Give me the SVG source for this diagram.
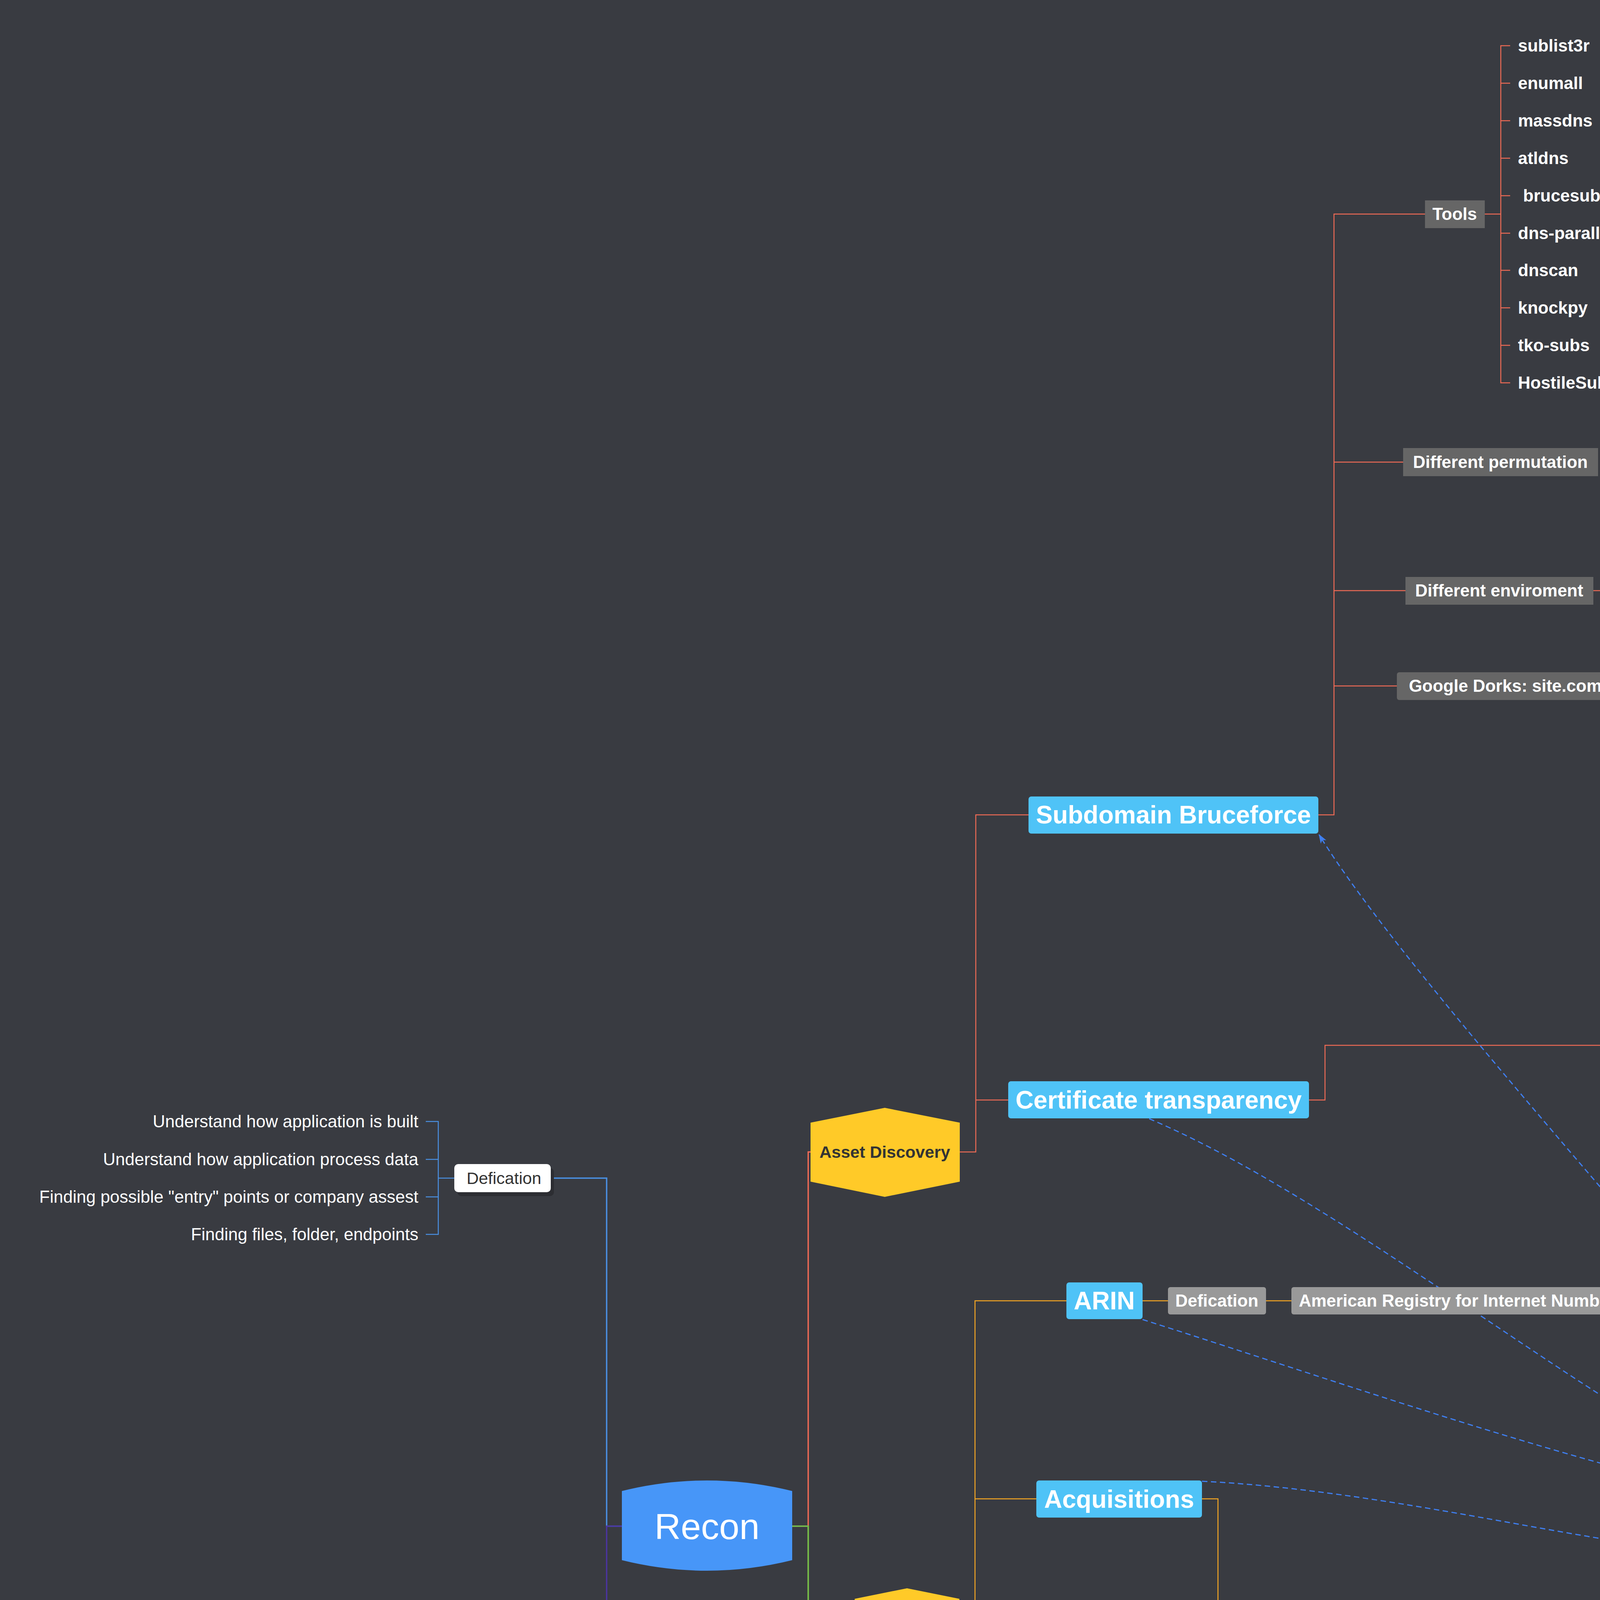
<svg xmlns="http://www.w3.org/2000/svg" width="5648" height="5938" viewBox="0 0 5648 5938">
<defs>
<marker id="ah" viewBox="0 0 20 14" refX="18" refY="7" markerWidth="24" markerHeight="17" markerUnits="userSpaceOnUse" orient="auto"><path d="M0,0 L20,7 L0,14 L5,7 z" fill="#3f7ff0"/></marker>
</defs>
<style>
text{font-family:"Liberation Sans",Arial,Helvetica,sans-serif}
.t44{font-size:44px;font-weight:bold;fill:#fff;text-anchor:middle}
.t64{font-size:64px;font-weight:bold;fill:#fff;text-anchor:middle}
.lf{font-size:44px;font-weight:bold;fill:#fff}
.lr{font-size:44px;fill:#fff;text-anchor:end}
.s31{font-size:31px;fill:#333;text-anchor:middle}
.dk{fill:#666}.gr{fill:#999}.bk{fill:#000}.bl{fill:#4fc3f7}.pu{fill:#ba68c8}.lt{fill:#e5e5e5}.wh{fill:#fff}
.fb{fill:#3c3e44}
.sh{fill:#2c2d32}
.ln{fill:none}
.r{stroke:#ee6a55}.o{stroke:#f5a623}.g{stroke:#6abf4b}.b{stroke:#4a90e2}.p{stroke:#4b35a0}
.w2{stroke-width:2.5}.w3{stroke-width:3.5}
.rel{fill:none;stroke:#3f7ff0;stroke-width:3;stroke-dasharray:14 9;marker-end:url(#ah)}
</style>
<rect width="5648" height="5938" fill="#393b41"/>

<g id="connectors">
<path class="ln b w3" d="M1592,3907 H1553 V3016 H1410"/>
<path class="ln p w3" d="M1592,3907 H1553 V4486 H1059"/>
<path class="ln b w2" d="M1163,3016 H1122 M1090,2871 H1122 V3160 H1090 M1090,2968 H1122 M1090,3064 H1122"/>
<path class="ln r w3" d="M2028,3907 H2069 V2949 H2075"/>
<path class="ln o w3" d="M2069,3907 V4146 H2188"/>
<path class="ln g w3" d="M2028,3907 H2069 V5130 H2194"/>
<path class="ln r w2" d="M2457,2949 H2498 V2086 H2633 M2498,2816 H2581"/>
<path class="ln r w2" d="M3375,2086 H3415 V548 H3648 M3415,1183 H3592 M3415,1512 H3598 M3415,1756 H3576"/>
<path class="ln r w2" d="M3801,548 H3842 M3866,117 H3842 V980 H3866 M3842,213 H3866 M3842,309 H3866 M3842,405 H3866 M3842,501 H3866 M3842,597 H3866 M3842,692 H3866 M3842,788 H3866 M3842,884 H3866"/>
<path class="ln r w2" d="M4079,1512 H4119 M4144,1464 H4119 V1560 H4144"/>
<path class="ln r w2" d="M3351,2816 H3392 V2676 H4264"/>
<path class="ln r w2" d="M4688,2676 H4729 M4773,2026 H4729 V3107 H4754 M4729,2508 H4754 M4969,2026 H5034"/>
<path class="ln r w2" d="M4954,2508 H4995 M5020,2340 H4995 V2676 H5020"/>
<path class="ln r w2" d="M5166,2676 H5207 M5231,2436 H5207 V2914 H5231 M5207,2532 H5231 M5207,2628 H5231 M5207,2723 H5231 M5207,2819 H5231"/>
<path class="ln r w2" d="M5030,3107 H5096 M5096,3012 H5071 V3204 H5096"/>
<path class="ln o w2" d="M2456,4146 H2496 V3330 H2730 M2496,3837 H2654"/>
<path class="ln o w2" d="M2925,3330 H2990 M3241,3330 H3306"/>
<path class="ln o w2" d="M3077,3837 H3118 V4471 H3616 M3118,4237 H3616"/>
<path class="ln g w2" d="M2591,5130 H2622 V4967 H2881 M2622,5130 V5729 H2741"/>
<path class="ln g w2" d="M3430,4967 H3471 V4843 M3471,4967 V5091 H3524"/>
<path class="ln g w2" d="M3531,5729 H3571 V5821 H3690"/>
<path class="ln r w3" d="M5166,3816 V3610 H5226"/>
<path class="ln o w3" d="M5166,3816 V3748 H5226"/>
<path class="ln g w3" d="M5166,3816 V3886 H5226"/>
<path class="ln b w3" d="M5125,3816 H5166 V4023 H5226"/>
<path class="rel" d="M4702,3761 C4300,3250 3600,2500 3377,2137"/>
<path class="rel" d="M2942,2864 C3500,3100 4250,3760 4690,3876"/>
<path class="rel" d="M2925,3378 C3500,3560 4200,3810 4690,3876"/>
<path class="rel" d="M3077,3792 C3650,3820 4250,4010 4480,3962 C4620,3935 4710,3930 4727,3876"/>
</g>

<g id="recon">
<path d="M1592,3817 Q1810,3763 2028,3817 L2028,3994 Q1810,4048 1592,3994 Z" fill="#4796f8"/>
<text x="1810" y="3940" style="font-size:93px;fill:#fff;text-anchor:middle">Recon</text>
</g>

<g id="defication-left">
<rect class="sh" x="1171" y="2990" width="247" height="72" rx="10"/>
<rect class="wh" x="1163" y="2980" width="247" height="72" rx="10"/>
<text x="1290" y="3031" style="font-size:43px;fill:#333;text-anchor:middle">Defication</text>
</g>
<g id="defication-items">
<text class="lr" x="1071" y="2886">Understand how application is built</text>
<text class="lr" x="1071" y="2983">Understand how application process data</text>
<text class="lr" x="1071" y="3079">Finding possible &quot;entry&quot; points or company assest</text>
<text class="lr" x="1071" y="3175">Finding files, folder, endpoints</text>
</g>
<g id="automation">
<rect class="sh" x="864" y="4465" width="202" height="58" rx="9"/>
<rect class="wh" x="857" y="4455" width="202" height="58" rx="9"/>
<text x="958" y="4497" style="font-size:31px;fill:#333;text-anchor:middle">Automation</text>
</g>

<g id="asset-discovery">
<polygon points="2075,2874 2265,2836 2457,2874 2457,3025 2265,3064 2075,3025" fill="#ffca28"/>
<text x="2265" y="2964" style="font-size:43px;font-weight:bold;fill:#333;text-anchor:middle">Asset Discovery</text>
</g>
<g id="osint">
<polygon points="2188,4093 2322,4066 2456,4093 2456,4198 2322,4225 2188,4198" fill="#ffca28"/>
<text x="2322" y="4171" style="font-size:71px;font-weight:bold;fill:#333;text-anchor:middle">OSINT</text>
</g>
<g id="vender-services">
<rect x="2194" y="5005" width="397" height="248" rx="8" fill="none" stroke="#ffca28" stroke-width="3.5"/>
<polygon points="2202,5055 2392,5015 2582,5055 2582,5204 2392,5243 2202,5204" fill="#ffca28"/>
<text x="2392" y="5144" style="font-size:44px;font-weight:bold;fill:#333;text-anchor:middle">Vender Services</text>
</g>

<g id="subdomain-bruceforce">
<rect class="bl" x="2633" y="2039" width="742" height="95" rx="7"/>
<text class="t64" x="3004" y="2108">Subdomain Bruceforce</text>
</g>
<g id="tools">
<rect class="dk" x="3648" y="513" width="153" height="71"/>
<text class="t44" x="3724" y="563">Tools</text>
</g>
<g id="tool-items">
<text class="lf" x="3886" y="132">sublist3r</text>
<text class="lf" x="3886" y="228">enumall</text>
<text class="lf" x="3886" y="324">massdns</text>
<text class="lf" x="3886" y="420">atldns</text>
<text class="lf" x="3899" y="516">brucesubs</text>
<text class="lf" x="3886" y="612">dns-parallel-prober</text>
<text class="lf" x="3886" y="707">dnscan</text>
<text class="lf" x="3886" y="803">knockpy</text>
<text class="lf" x="3886" y="899">tko-subs</text>
<text class="lf" x="3886" y="995">HostileSubBruceforce</text>
</g>
<g id="different-permutation">
<rect class="dk" x="3592" y="1147" width="499" height="72"/>
<text class="t44" x="3841" y="1198">Different permutation</text>
</g>
<g id="different-enviroment">
<rect class="dk" x="3598" y="1477" width="481" height="71"/>
<text class="t44" x="3838" y="1527">Different enviroment</text>
</g>
<g id="dashboard-dot">
<rect class="dk" x="4144" y="1429" width="538" height="71" rx="6"/>
<text class="t44" x="4413" y="1480">dashboard.dev.site.com</text>
</g>
<g id="dashboard-dash">
<rect class="dk" x="4144" y="1525" width="554" height="70" rx="6"/>
<text class="t44" x="4427" y="1575">dashboard-dev.site.com</text>
</g>
<g id="google-dorks">
<rect class="dk" x="3576" y="1721" width="872" height="71" rx="6"/>
<text class="t44" x="4018" y="1771">Google Dorks: site.com +inurl:dev -cdn</text>
</g>

<g id="certificate-transparency">
<rect class="bl" x="2581" y="2768" width="770" height="95" rx="7"/>
<text class="t64" x="2966" y="2838">Certificate transparency</text>
</g>
<g id="how-to-find-more">
<rect class="gr" x="4264" y="2640" width="424" height="71" rx="6"/>
<text class="t44" x="4476" y="2691">How to find more?</text>
</g>
<g id="censys">
<rect class="gr" x="4773" y="1990" width="196" height="71" rx="6"/>
<text class="t44" x="4871" y="2041">Censys</text>
</g>
<g id="look-ssl">
<rect class="bk" x="5034" y="1990" width="532" height="71" rx="6"/>
<text class="t44" x="5300" y="2041">Look for SSL certificate</text>
</g>
<g id="shodan">
<rect class="gr" x="4754" y="2473" width="200" height="70" rx="6"/>
<text class="t44" x="4854" y="2523">Shodan</text>
</g>
<g id="search-hostname">
<rect class="bk" x="5020" y="2305" width="476" height="70" rx="6"/>
<text class="t44" x="5258" y="2355">Search for hostname</text>
</g>
<g id="filter">
<rect class="bk" x="5020" y="2640" width="146" height="71" rx="6"/>
<text class="t44" x="5093" y="2691">Filter</text>
</g>
<g id="filter-items">
<rect class="fb" x="5232" y="2400" width="126" height="72" rx="8"/>
<rect class="fb" x="5232" y="2496" width="115" height="72" rx="8"/>
<rect class="fb" x="5232" y="2592" width="203" height="72" rx="8"/>
<rect class="fb" x="5232" y="2687" width="130" height="72" rx="8"/>
<rect class="fb" x="5232" y="2783" width="252" height="72" rx="8"/>
<rect class="fb" x="5232" y="2878" width="100" height="72" rx="8"/>
<text class="lf" x="5251" y="2451">Port</text>
<text class="lf" x="5251" y="2547">Tile</text>
<text class="lf" x="5251" y="2643">Product</text>
<text class="lf" x="5264" y="2738">Org</text>
<text class="lf" x="5251" y="2834">Hostname</text>
<text class="lf" x="5251" y="2929">ssl</text>
</g>
<g id="certspotter">
<rect class="gr" x="4754" y="3073" width="276" height="70" rx="6"/>
<text class="t44" x="4892" y="3123">Certspotter</text>
</g>
<g id="make-bash-alias">
<rect class="bk" x="5096" y="2977" width="376" height="70" rx="6"/>
<text class="t44" x="5284" y="3027">make bash alias</text>
</g>
<g id="automate">
<rect class="bk" x="5096" y="3073" width="234" height="70" rx="6"/>
<text class="t44" x="5213" y="3123">automate</text>
</g>
<g id="win">
<rect class="bk" x="5096" y="3169" width="112" height="70" rx="6"/>
<text class="t44" x="5152" y="3219">win</text>
</g>

<g id="arin">
<rect class="bl" x="2730" y="3283" width="195" height="94" rx="7"/>
<text class="t64" x="2827" y="3352">ARIN</text>
</g>
<g id="arin-defication">
<rect class="gr" x="2990" y="3295" width="251" height="70" rx="6"/>
<text class="t44" x="3115" y="3345">Defication</text>
</g>
<g id="arin-name">
<rect class="gr" x="3306" y="3295" width="874" height="70" rx="6"/>
<text class="t44" x="3743" y="3345">American Registry for Internet Numbers</text>
</g>
<g id="acquisitions">
<rect class="bl" x="2653" y="3790" width="424" height="95" rx="7"/>
<text class="t64" x="2865" y="3860">Acquisitions</text>
</g>
<g id="geared">
<rect class="gr" x="3616" y="4202" width="721" height="71" rx="6"/>
<text class="t44" x="3976" y="4253">Geared towards bigger company</text>
</g>
<g id="usually">
<rect class="gr" x="3616" y="4436" width="734" height="71" rx="6"/>
<text class="t44" x="3983" y="4487">Usually in Scope (after 6 months)</text>
</g>

<g id="leak-credentials">
<rect class="bl" x="2881" y="4919" width="549" height="96" rx="7"/>
<text class="t64" x="3155" y="4989">Leak Credentials</text>
</g>
<g id="online-repositories">
<rect class="pu" x="3452" y="4771" width="454" height="72" rx="6"/>
<text class="t44" x="3679" y="4822">Online Repositories</text>
</g>
<g id="paste-site">
<rect class="pu" x="3524" y="5055" width="248" height="72" rx="6"/>
<text class="t44" x="3648" y="5106">Paste Site</text>
</g>
<g id="cdn-cloud">
<rect class="bl" x="2741" y="5681" width="790" height="96" rx="7"/>
<text class="t64" x="3136" y="5751">CDN and Cloud Services</text>
</g>
<g id="misconfigurations">
<rect class="pu" x="3690" y="5785" width="417" height="72" rx="6"/>
<text class="t44" x="3898" y="5836">Misconfigurations</text>
</g>

<g id="contain-discovery">
<rect class="sh" x="4709" y="3771" width="423" height="107" rx="10"/>
<rect x="4702" y="3761" width="423" height="107" rx="10" fill="#8d6b5b"/>
<text x="4914" y="3829" style="font-size:40px;fill:#fff;text-anchor:middle">Contain Discovery</text>
</g>
<g id="visual-identification">
<rect class="sh" x="5234" y="3590" width="314" height="57" rx="8"/>
<rect class="lt" x="5226" y="3580" width="314" height="57" rx="8"/>
<text class="s31" x="5383" y="3620">Visual Identification</text>
</g>
<g id="port-scanning">
<rect class="sh" x="5234" y="3728" width="248" height="58" rx="8"/>
<rect class="lt" x="5226" y="3718" width="248" height="58" rx="8"/>
<text class="s31" x="5352" y="3758">Port Scanning</text>
</g>
<g id="directory-bruceforce">
<rect class="sh" x="5234" y="3866" width="330" height="57" rx="8"/>
<rect class="lt" x="5226" y="3856" width="330" height="57" rx="8"/>
<text class="s31" x="5391" y="3896">Directory Bruceforce</text>
</g>
<g id="javascript-files">
<rect class="sh" x="5234" y="4004" width="268" height="57" rx="8"/>
<rect class="lt" x="5226" y="3994" width="268" height="57" rx="8"/>
<text class="s31" x="5362" y="4034">Javascript Files</text>
</g>
</svg>
